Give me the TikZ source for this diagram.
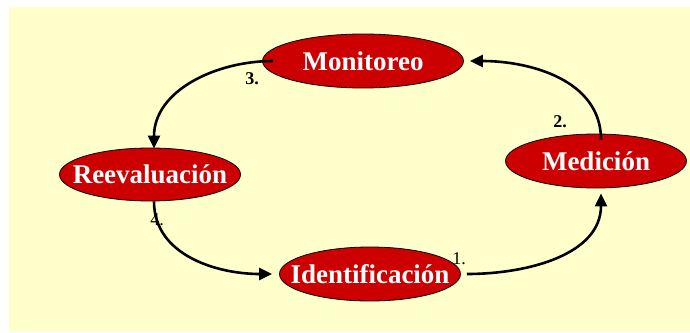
\documentclass[tikz,border=0pt]{standalone}
\usepackage{fontspec}
\setmainfont{Liberation Serif}
\usetikzlibrary{shapes.geometric,arrows.meta}
\definecolor{bgyellow}{HTML}{FFFFCC}
\definecolor{nodered}{HTML}{CC0000}
\tikzset{
  stage/.style={ellipse, draw=black, line width=0.8pt, fill=nodered, text=white,
    inner sep=0pt, minimum width=181pt, minimum height=54pt,
    font=\fontsize{27}{30}\selectfont\bfseries},
  flow/.style={line width=2.6pt, -{Triangle[length=13pt,width=12pt]}},
  numlab/.style={font=\fontsize{18}{20}\selectfont\bfseries, inner sep=0pt},
  numlabreg/.style={font=\fontsize{18}{20}\selectfont, inner sep=0pt}
}
\newcommand{\zw}[1]{\makebox[0pt]{#1}}
\begin{document}
\begin{tikzpicture}[x=1pt,y=-1pt]
\useasboundingbox (0,0) rectangle (690,332);
\fill[bgyellow] (9,7) rectangle (690,332);

\node[numlabreg] (l1) at (459,259) {1.};
\node[numlab] (l2) at (560,122) {2.};
\node[numlab] (l3) at (252,79) {3.};
\node[numlabreg] (l4) at (157,220) {4.};

\node[stage, minimum width=201pt] (mon) at (363,61) {\zw{Monitoreo}};
\node[stage, minimum height=53pt] (ree) at (150,174.5) {\zw{Reevaluación}};
\node[stage] (med) at (596,161) {\zw{Medición}};
\node[stage] (ide) at (370,274) {\zw{Identificación}};

\draw[flow] ([xshift=6pt]ide.east) to[out=0,in=-90] ([xshift=5pt,yshift=-5pt]med.south);
\draw[flow] ([xshift=5pt,yshift=-6pt]med.north) to[out=90,in=0] ([xshift=6pt]mon.east);
\draw[flow] ([xshift=11pt]mon.west) to[out=180,in=90] ([xshift=4pt,yshift=-1pt]ree.north);
\draw[flow] ([xshift=4pt]ree.south) to[out=-90,in=180] ([xshift=-7pt]ide.west);
\end{tikzpicture}
\end{document}
